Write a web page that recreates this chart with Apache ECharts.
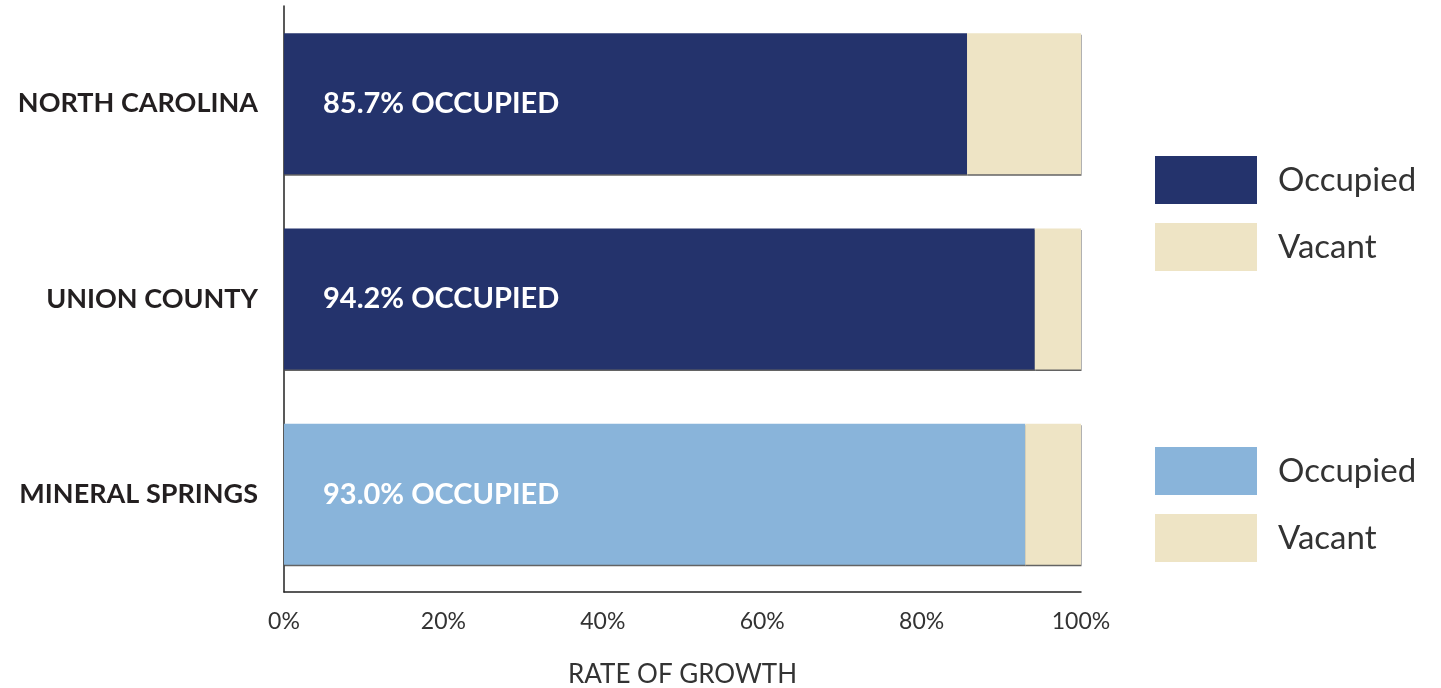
<!DOCTYPE html>
<html>
<head>
<meta charset="utf-8">
<style>
  html, body { margin: 0; padding: 0; background: #fff; }
  #chart { width: 1441px; height: 688px; }
</style>
<script src="https://cdn.jsdelivr.net/npm/echarts@6/dist/echarts.min.js"></script>
</head>
<body>
<div id="chart"></div>
<script>
var categories = ['NORTH CAROLINA', 'UNION COUNTY', 'MINERAL SPRINGS']
var occupiedRegion = [85.7, 94.2, '-']
var vacantRegion = [14.3, 5.8, '-']
var occupiedTown = ['-', '-', 93.0]
var vacantTown = ['-', '-', 7.0]
var xTicks = [0, 20, 40, 60, 80, 100]

var navy = '#24336c'
var sky = '#89b4da'
var beige = '#eee4c5'
var font = 'Lato, "Open Sans", sans-serif'

var chart = echarts.init(document.getElementById('chart'))

function barLabel (show) {
  return {
    show: show,
    position: 'insideLeft',
    distance: 39,
    color: '#fff',
    fontFamily: font,
    fontWeight: 'bold',
    fontSize: 29,
    formatter: function (p) { return p.value.toFixed(1) + '% OCCUPIED' }
  }
}

function barSeries (name, data, color, withLabel) {
  return {
    name: name,
    type: 'bar',
    stack: 'total',
    barWidth: 141,
    data: data,
    label: barLabel(withLabel),
    itemStyle: {
      color: color,
      shadowColor: 'rgba(60,60,60,0.8)',
      shadowOffsetY: 1.5,
      shadowOffsetX: 0.5,
      shadowBlur: 0
    },
    emphasis: { disabled: true }
  }
}

var legendBase = {
  orient: 'vertical',
  left: 1155,
  itemWidth: 102,
  itemHeight: 48,
  itemGap: 19,
  padding: 0,
  icon: 'rect',
  selectedMode: false,
  formatter: function (name) { return name.trim() },
  textStyle: {
    fontFamily: font,
    fontSize: 33,
    color: '#333',
    padding: [0, 0, 0, 16]
  }
}

chart.setOption({
  backgroundColor: '#fff',
  animation: false,
  grid: { left: 284, right: 360, top: 6, bottom: 96, outerBoundsMode: 'none', containLabel: false },
  legend: [
    Object.assign({}, legendBase, { top: 156, data: ['Occupied', 'Vacant'] }),
    Object.assign({}, legendBase, { top: 447, data: ['Occupied ', 'Vacant '] })
  ],
  xAxis: {
    type: 'value',
    min: xTicks[0],
    max: xTicks[xTicks.length - 1],
    interval: xTicks[1] - xTicks[0],
    name: 'RATE OF GROWTH',
    nameLocation: 'middle',
    nameGap: 70,
    nameTextStyle: { fontFamily: font, fontSize: 26, color: '#333' },
    axisLine: { show: true, lineStyle: { color: '#222', width: 1.5 } },
    axisTick: { show: false },
    splitLine: { show: false },
    axisLabel: {
      margin: 18,
      fontFamily: font,
      fontSize: 23,
      color: '#333',
      formatter: '{value}%'
    }
  },
  yAxis: {
    type: 'category',
    inverse: true,
    data: categories,
    axisLine: { show: true, lineStyle: { color: '#222', width: 1.5 } },
    axisTick: { show: false },
    axisLabel: {
      margin: 26,
      fontFamily: font,
      fontWeight: 'bold',
      fontSize: 27,
      color: '#231f20'
    }
  },
  series: [
    barSeries('Occupied', occupiedRegion, navy, true),
    barSeries('Vacant', vacantRegion, beige, false),
    barSeries('Occupied ', occupiedTown, sky, true),
    barSeries('Vacant ', vacantTown, beige, false)
  ]
})
</script>
</body>
</html>
